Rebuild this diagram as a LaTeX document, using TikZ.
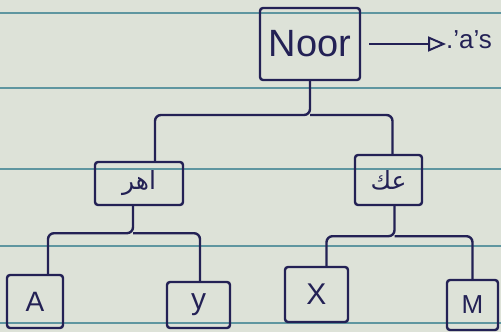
\documentclass[tikz,border=0pt]{standalone}
\usepackage{fontspec}
\setmainfont{Liberation Sans}
\newfontfamily\arabicfont[Script=Arabic]{DejaVu Sans}
\TeXXeTstate=1
\usetikzlibrary{arrows.meta,calc}
\definecolor{paper}{RGB}{221,226,216}
\definecolor{ruleline}{RGB}{95,150,160}
\definecolor{ink}{RGB}{35,33,85}
\tikzset{
  box/.style={draw=ink, line width=2.4pt, rounded corners=3pt, inner sep=0pt, text=ink},
  wire/.style={draw=ink, line width=2.4pt, rounded corners=6pt},
  pointer/.style={draw=ink, line width=2pt, -{Triangle[open,length=18pt,width=15pt,line width=2pt]}},
  lab/.style={text=ink, inner sep=0pt}
}
\begin{document}
\begin{tikzpicture}[x=1pt,y=-1pt]
\fill[paper] (0,0) rectangle (501,332);
\useasboundingbox (0,0) rectangle (501,332);
\foreach \yy in {13,88,169,246,323} \draw[ruleline,line width=1.3pt] (0,\yy) -- (501,\yy);

\node[box,minimum width=100pt,minimum height=72pt] (root) at (310,44) {\fontsize{38}{38}\selectfont Noor};
\node[box,minimum width=88pt,minimum height=43pt] (lc) at (139,183.5) {\arabicfont\fontsize{25}{25}\selectfont\beginR اهر\endR};
\node[box,minimum width=67pt,minimum height=50pt] (rc) at (388.5,180) {\arabicfont\fontsize{25}{25}\selectfont\beginR عك\endR};
\node[box,minimum width=56pt,minimum height=53pt] (A) at (35,301.5) {\fontsize{28}{28}\selectfont A};
\node[box,minimum width=63pt,minimum height=46pt] (Y) at (198.5,305) {\fontsize{30}{30}\selectfont y};
\node[box,minimum width=63pt,minimum height=55pt] (X) at (316.5,294.5) {\fontsize{30}{30}\selectfont X};
\node[box,minimum width=51pt,minimum height=50pt] (M) at (472.5,305) {\fontsize{26}{26}\selectfont M};

\node[lab,anchor=west] (note) at (446,40) {\fontsize{26}{26}\selectfont .'a's};

\coordinate (j0) at (310,115);
\draw[wire] (root.south) -- (j0) -| ($(lc.north)+(16,0)$);
\draw[wire] (j0) -| ($(rc.north)+(4,0)$);
\draw[wire] ($(lc.south)+(-6,0)$) -- ++(0,27) coordinate (j1) -| ($(A.north)+(13,0)$);
\draw[wire] (j1) -| ($(Y.north)+(1.5,0)$);
\draw[wire] ($(rc.south)+(6,0)$) -- ++(0,30) coordinate (j2) -| ($(X.north)+(10,0)$);
\draw[wire] (j2) -| (M.north);

\draw[pointer, shorten <=8pt] (root.east) -- (root.east -| note.west);
\end{tikzpicture}
\end{document}
